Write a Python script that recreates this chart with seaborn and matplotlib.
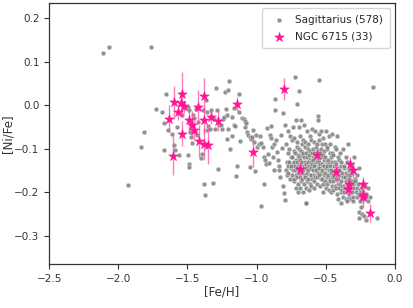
import numpy as np
import matplotlib
matplotlib.use("Agg")
import matplotlib.pyplot as plt
import seaborn as sns

# Sagittarius field stars: sparse metal-poor part
sag_feh_sparse = [
    -2.110, -2.067, -1.761, -1.932, -1.838, -1.814,
    -1.728, -1.687, -1.658, -1.670, -1.667, -1.641, -1.615, -1.595, -1.588,
    -1.576, -1.559, -1.538, -1.516, -1.494, -1.492, -1.497, -1.492, -1.485,
    -1.482, -1.475, -1.468, -1.458, -1.449, -1.444, -1.439, -1.429, -1.422,
    -1.405, -1.398, -1.386, -1.379, -1.372, -1.364, -1.359, -1.357, -1.350,
    -1.340, -1.326, -1.314, -1.309, -1.302, -1.290, -1.285, -1.280, -1.273,
    -1.258, -1.249, -1.246, -1.239, -1.230, -1.220, -1.215, -1.213, -1.208,
    -1.205, -1.198, -1.193, -1.179, -1.174, -1.165, -1.162, -1.155, -1.148,
    -1.141, -1.126, -1.124, -1.119, -1.102, -1.092, -1.085, -1.080, -1.073,
    -1.066, -1.061, -1.049, -1.047, -1.037, -1.032, -1.027, -1.018, -1.013,
    -1.003, -1.000, -0.984, -0.974, -0.965, -0.965, -0.955, -0.948, -0.943,
    -0.936, -0.931, -0.922, -0.917, -0.907, -0.902, -0.897, -0.893, -0.888,
    -0.883, -0.876, -0.871, -0.869, -0.866, -0.861, -0.852, -0.845, -0.840,
    -0.835, -0.828, -0.823, -0.816, -0.808, -0.806, -0.799, -0.796, -0.792,
    -0.724, -0.693, -0.705, -0.546, -0.161, -0.128, -0.642, -0.180,
]
sag_nife_sparse = [
    0.121, 0.135, 0.134, -0.184, -0.096, -0.061,
    -0.008, -0.016, 0.027, -0.041, -0.104, -0.058, -0.066, -0.092, -0.104,
    -0.049, -0.114, -0.022, -0.007, -0.003, -0.012, -0.115, -0.134, -0.141,
    -0.061, -0.072, -0.086, -0.022, -0.029, -0.061, -0.009, -0.068, -0.039,
    -0.121, -0.111, -0.010, -0.182, -0.207, 0.012, -0.016, -0.058, -0.048,
    -0.055, -0.011, -0.179, -0.031, -0.054, 0.039, -0.012, -0.147, -0.045,
    -0.045, -0.054, -0.031, -0.028, 0.031, -0.008, -0.022, -0.077, 0.035,
    -0.055, 0.055, -0.101, -0.027, -0.070, -0.007, -0.046, -0.048, -0.163,
    -0.139, 0.026, -0.016, -0.083, -0.030, -0.031, -0.037, -0.049, -0.040,
    -0.061, -0.068, -0.141, -0.072, -0.078, -0.073, -0.057, -0.084, -0.151,
    -0.068, -0.095, -0.088, -0.071, -0.232, -0.086, -0.097, -0.118, -0.180,
    -0.126, -0.134, -0.053, -0.111, -0.132, -0.069, -0.048, -0.076, -0.095,
    -0.118, -0.089, -0.149, 0.015, -0.010, -0.080, -0.107, -0.126, -0.148,
    -0.140, -0.164, -0.068, -0.099, -0.186, -0.018, -0.202, -0.218, -0.045,
    0.064, 0.032, 0.002, 0.058, 0.042, -0.260, -0.225, -0.210,
]

# Sagittarius: dense metal-rich sequence
sag_feh_dense = [
    -0.776, -0.787, -0.771, -0.782, -0.774, -0.789, -0.779,
    -0.756, -0.767, -0.751, -0.762, -0.754, -0.769, -0.759,
    -0.736, -0.747, -0.731, -0.742, -0.734, -0.749, -0.739, -0.745, -0.732,
    -0.716, -0.727, -0.711, -0.722, -0.714, -0.729, -0.719, -0.725, -0.712, -0.728, -0.717,
    -0.696, -0.707, -0.691, -0.702, -0.694, -0.709, -0.699, -0.705, -0.692, -0.708, -0.697, -0.703,
    -0.676, -0.687, -0.671, -0.682, -0.674, -0.689, -0.679, -0.685, -0.672, -0.688, -0.677, -0.683,
    -0.656, -0.667, -0.651, -0.662, -0.654, -0.669, -0.659, -0.665, -0.652, -0.668, -0.657, -0.663,
    -0.636, -0.647, -0.631, -0.642, -0.634, -0.649, -0.639, -0.645, -0.632, -0.648, -0.637, -0.643, -0.641,
    -0.616, -0.627, -0.611, -0.622, -0.614, -0.629, -0.619, -0.625, -0.612, -0.628, -0.617, -0.623,
    -0.596, -0.607, -0.591, -0.602, -0.594, -0.609, -0.599, -0.605, -0.592, -0.608, -0.597, -0.603,
    -0.576, -0.587, -0.571, -0.582, -0.574, -0.589, -0.579, -0.585, -0.572, -0.588, -0.577, -0.583, -0.581,
    -0.556, -0.557, -0.551, -0.562, -0.554, -0.569, -0.559, -0.565, -0.552, -0.568, -0.557, -0.563, -0.561,
    -0.536, -0.547, -0.531, -0.542, -0.534, -0.549, -0.539, -0.545, -0.532, -0.548, -0.537, -0.543,
    -0.516, -0.527, -0.511, -0.522, -0.514, -0.529, -0.519, -0.525, -0.512, -0.528, -0.517, -0.523,
    -0.496, -0.507, -0.491, -0.502, -0.494, -0.509, -0.499, -0.505, -0.492, -0.508, -0.497,
    -0.476, -0.487, -0.471, -0.482, -0.474, -0.489, -0.479, -0.485, -0.472, -0.488, -0.477,
    -0.456, -0.467, -0.451, -0.462, -0.454, -0.469, -0.459, -0.465, -0.452, -0.468, -0.457, -0.463,
    -0.436, -0.447, -0.431, -0.442, -0.434, -0.449, -0.439, -0.445, -0.432, -0.448,
    -0.416, -0.427, -0.411, -0.422, -0.414, -0.429, -0.419, -0.425, -0.412, -0.428, -0.417,
    -0.396, -0.407, -0.391, -0.402, -0.394, -0.409, -0.399, -0.405, -0.392, -0.408,
    -0.376, -0.387, -0.371, -0.382, -0.374, -0.389, -0.379, -0.385, -0.372, -0.388,
    -0.356, -0.367, -0.351, -0.362, -0.354, -0.369, -0.359, -0.365, -0.352,
    -0.336, -0.347, -0.331, -0.342, -0.334, -0.349, -0.339, -0.345, -0.332, -0.348,
    -0.316, -0.327, -0.311, -0.322, -0.314, -0.329, -0.319,
    -0.296, -0.307, -0.291, -0.302, -0.294, -0.309, -0.299, -0.305,
    -0.276, -0.287, -0.271, -0.282, -0.274,
    -0.256, -0.267, -0.251, -0.262, -0.254, -0.262, -0.258,
    -0.236, -0.247, -0.231, -0.242, -0.238,
    -0.216, -0.227, -0.211, -0.222,
    -0.196, -0.207, -0.191, -0.205,
]
sag_nife_dense = [
    -0.060, -0.090, -0.110, -0.130, -0.140, -0.150, -0.160,
    -0.070, -0.100, -0.120, -0.130, -0.145, -0.155, -0.170,
    -0.050, -0.080, -0.105, -0.120, -0.135, -0.140, -0.150, -0.160, -0.175,
    -0.035, -0.075, -0.095, -0.110, -0.125, -0.130, -0.140, -0.150, -0.160, -0.170, -0.190,
    -0.050, -0.085, -0.100, -0.115, -0.120, -0.130, -0.140, -0.145, -0.155, -0.165, -0.180, -0.200,
    -0.035, -0.070, -0.090, -0.105, -0.115, -0.125, -0.135, -0.145, -0.155, -0.165, -0.175, -0.190,
    -0.045, -0.080, -0.095, -0.110, -0.120, -0.130, -0.140, -0.150, -0.160, -0.170, -0.180, -0.200,
    -0.060, -0.085, -0.100, -0.110, -0.120, -0.130, -0.135, -0.145, -0.155, -0.165, -0.175, -0.190, -0.225,
    -0.070, -0.090, -0.105, -0.115, -0.125, -0.130, -0.140, -0.150, -0.160, -0.170, -0.180, -0.195,
    -0.055, -0.080, -0.100, -0.110, -0.120, -0.130, -0.135, -0.145, -0.150, -0.160, -0.170, -0.185,
    -0.060, -0.085, -0.095, -0.110, -0.120, -0.125, -0.135, -0.140, -0.150, -0.160, -0.165, -0.175, -0.190,
    -0.025, -0.035, -0.065, -0.090, -0.105, -0.115, -0.125, -0.130, -0.140, -0.150, -0.155, -0.165, -0.180,
    -0.060, -0.080, -0.100, -0.110, -0.120, -0.130, -0.135, -0.145, -0.155, -0.160, -0.170, -0.185,
    -0.075, -0.090, -0.105, -0.115, -0.125, -0.135, -0.140, -0.150, -0.160, -0.170, -0.180, -0.200,
    -0.060, -0.090, -0.100, -0.120, -0.130, -0.140, -0.145, -0.155, -0.165, -0.175, -0.190,
    -0.070, -0.095, -0.110, -0.125, -0.135, -0.140, -0.150, -0.160, -0.170, -0.180, -0.195,
    -0.065, -0.090, -0.110, -0.120, -0.130, -0.140, -0.150, -0.155, -0.165, -0.175, -0.185, -0.200,
    -0.095, -0.115, -0.130, -0.140, -0.150, -0.160, -0.165, -0.175, -0.185, -0.195,
    -0.070, -0.100, -0.120, -0.135, -0.145, -0.155, -0.165, -0.170, -0.180, -0.190, -0.205,
    -0.110, -0.125, -0.140, -0.150, -0.160, -0.170, -0.180, -0.190, -0.200, -0.215,
    -0.100, -0.130, -0.145, -0.155, -0.165, -0.175, -0.185, -0.195, -0.210, -0.225,
    -0.120, -0.140, -0.155, -0.165, -0.175, -0.185, -0.190, -0.200, -0.215,
    -0.090, -0.130, -0.150, -0.160, -0.170, -0.180, -0.190, -0.200, -0.210, -0.220,
    -0.145, -0.160, -0.175, -0.185, -0.195, -0.205, -0.215,
    -0.120, -0.155, -0.170, -0.180, -0.190, -0.200, -0.210, -0.220,
    -0.160, -0.175, -0.190, -0.200, -0.210,
    -0.145, -0.180, -0.195, -0.205, -0.220, -0.245, -0.260,
    -0.190, -0.200, -0.215, -0.235, -0.250,
    -0.185, -0.200, -0.210, -0.255,
    -0.190, -0.205, -0.220, -0.265,
]

# NGC 6715 (M54) stars with [Ni/Fe] uncertainties
ngc_feh = [-1.634, -1.607, -1.600, -1.566, -1.550, -1.542, -1.542, -1.523,
           -1.487, -1.470, -1.453, -1.420, -1.417, -1.379, -1.381, -1.381,
           -1.352, -1.331, -1.278, -1.138, -1.025, -0.799, -0.683, -0.565,
           -0.428, -0.325, -0.301, -0.330, -0.342, -0.229, -0.229, -0.178,
           -0.233]
ngc_nife = [-0.031, -0.116, 0.007, -0.015, 0.005, 0.025, -0.065, -0.002,
            -0.034, -0.045, -0.057, -0.003, -0.083, 0.022, -0.034, -0.089,
            -0.091, -0.028, -0.036, 0.003, -0.108, 0.038, -0.147, -0.114,
            -0.154, -0.134, -0.150, -0.180, -0.192, -0.182, -0.210, -0.248,
            -0.206]
ngc_err = [0.031, 0.045, 0.038, 0.019, 0.028, 0.052, 0.028, 0.015,
           0.027, 0.031, 0.023, 0.038, 0.037, 0.040, 0.031, 0.036,
           0.045, 0.016, 0.023, 0.017, 0.033, 0.025, 0.018, 0.015,
           0.022, 0.015, 0.017, 0.023, 0.015, 0.017, 0.023, 0.020,
           0.020]

sag_feh = sag_feh_sparse + sag_feh_dense
sag_nife = sag_nife_sparse + sag_nife_dense
assert len(sag_feh_sparse) == len(sag_nife_sparse)
assert len(sag_feh_dense) == len(sag_nife_dense)

sns.set_style("ticks")
plt.rcParams["font.family"] = ["DejaVu Sans"]

fig = plt.figure(figsize=(4.13, 3.08), dpi=100)
ax = fig.add_axes([0.119, 0.143, 0.837, 0.847])

sns.scatterplot(x=sag_feh, y=sag_nife, color="grey", alpha=0.85, s=12,
                edgecolor="white", linewidth=0.3, label="Sagittarius (578)", ax=ax)
ax.errorbar(ngc_feh, ngc_nife, yerr=ngc_err, fmt="none", ecolor="#ff4fa8",
            elinewidth=1.0, alpha=0.75, zorder=3)
sns.scatterplot(x=ngc_feh, y=ngc_nife, color="#ff1493", marker="*", s=55,
                edgecolor="#ff1493", linewidth=0.3, label="NGC 6715 (33)",
                ax=ax, zorder=4)

ax.set_xlim(-2.5, 0.0)
ax.set_ylim(-0.365, 0.235)
ax.set_xticks([-2.5, -2.0, -1.5, -1.0, -0.5, 0.0])
ax.set_yticks([-0.3, -0.2, -0.1, 0.0, 0.1, 0.2])
ax.tick_params(labelsize=7.5, length=3.5, width=0.8, colors="#333333")
ax.set_xlabel("[Fe/H]", fontsize=8.5, labelpad=1, color="#333333")
ax.set_ylabel("[Ni/Fe]", fontsize=8.5, labelpad=0, color="#333333")
for sp in ax.spines.values():
    sp.set_color("#333333")
    sp.set_linewidth(0.9)

ax.legend(loc="upper right", fontsize=7.5, frameon=True, markerscale=1.0,
          handletextpad=0.6, borderpad=0.6, labelspacing=0.7)

fig.savefig("out.png", dpi=100)
